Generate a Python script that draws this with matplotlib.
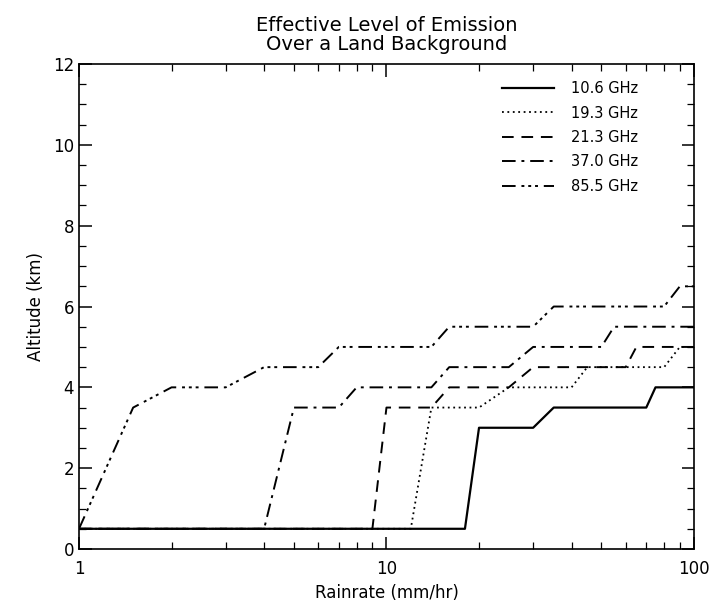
import matplotlib
matplotlib.use('Agg')
import matplotlib.pyplot as plt
from matplotlib.ticker import MultipleLocator, LogLocator, FixedLocator

# Effective emission altitude vs rain rate, one curve per channel
canais = ['10.6 GHz', '19.3 GHz', '21.3 GHz', '37.0 GHz', '85.5 GHz']

chuva_106 = [1, 18, 20, 30, 35, 70, 75, 100]
alt_106 = [0.5, 0.5, 3.0, 3.0, 3.5, 3.5, 4.0, 4.0]

chuva_193 = [1, 12, 14, 20, 25, 40, 45, 80, 90, 100]
alt_193 = [0.5, 0.5, 3.5, 3.5, 4.0, 4.0, 4.5, 4.5, 5.0, 5.0]

chuva_213 = [1, 9, 10, 14, 16, 25, 30, 60, 65, 100]
alt_213 = [0.5, 0.5, 3.5, 3.5, 4.0, 4.0, 4.5, 4.5, 5.0, 5.0]

chuva_370 = [1, 4, 5, 7, 8, 14, 16, 25, 30, 50, 55, 100]
alt_370 = [0.5, 0.5, 3.5, 3.5, 4.0, 4.0, 4.5, 4.5, 5.0, 5.0, 5.5, 5.5]

chuva_855 = [1, 1.5, 2, 3, 4, 6, 7, 14, 16, 30, 35, 80, 90, 100]
alt_855 = [0.5, 3.5, 4.0, 4.0, 4.5, 4.5, 5.0, 5.0, 5.5, 5.5, 6.0, 6.0, 6.5, 6.5]

series = [
    (chuva_106, alt_106, '-', 1.6),
    (chuva_193, alt_193, (0, (1, 2)), 1.3),
    (chuva_213, alt_213, (0, (6, 4)), 1.4),
    (chuva_370, alt_370, (0, (7, 3, 1.5, 3)), 1.4),
    (chuva_855, alt_855, (0, (7, 3, 1.5, 2, 1.5, 2, 1.5, 3)), 1.4),
]

plt.rcParams['font.family'] = 'DejaVu Sans'
fig = plt.figure(figsize=(7.15, 6.1), dpi=100)
ax = fig.add_axes([0.1105, 0.1, 0.86, 0.795])

for (x, y, estilo, lw), nome in zip(series, canais):
    ax.plot(x, y, color='black', linestyle=estilo, linewidth=lw, label=nome)

ax.set_xscale('log')
ax.set_xlim(1, 100)
ax.set_ylim(0, 12)

ax.xaxis.set_major_locator(FixedLocator([1, 10, 100]))
ax.set_xticklabels(['1', '10', '100'])
ax.xaxis.set_minor_locator(LogLocator(base=10, subs=range(2, 10)))
ax.yaxis.set_major_locator(MultipleLocator(2))
ax.yaxis.set_minor_locator(MultipleLocator(0.5))

ax.tick_params(which='both', direction='in', top=True, right=True, labelsize=12)
ax.tick_params(which='major', length=9, width=1.1)
ax.tick_params(which='minor', length=5, width=0.9)
ax.tick_params(axis='x', which='major', pad=8)
for lado in ax.spines.values():
    lado.set_linewidth(1.2)

ax.set_xlabel('Rainrate (mm/hr)', fontsize=12, labelpad=4)
ax.set_ylabel('Altitude (km)', fontsize=12, labelpad=6)
ax.set_title('Effective Level of Emission\nOver a Land Background', fontsize=14,
             color='black', linespacing=1.0, pad=10)

ax.legend(loc='upper right', frameon=False, fontsize=10.5, handlelength=3.6,
          handletextpad=1.15, labelspacing=0.65, borderaxespad=0.6,
          bbox_to_anchor=(0.933, 0.995))

fig.savefig('out.png', dpi=100)
